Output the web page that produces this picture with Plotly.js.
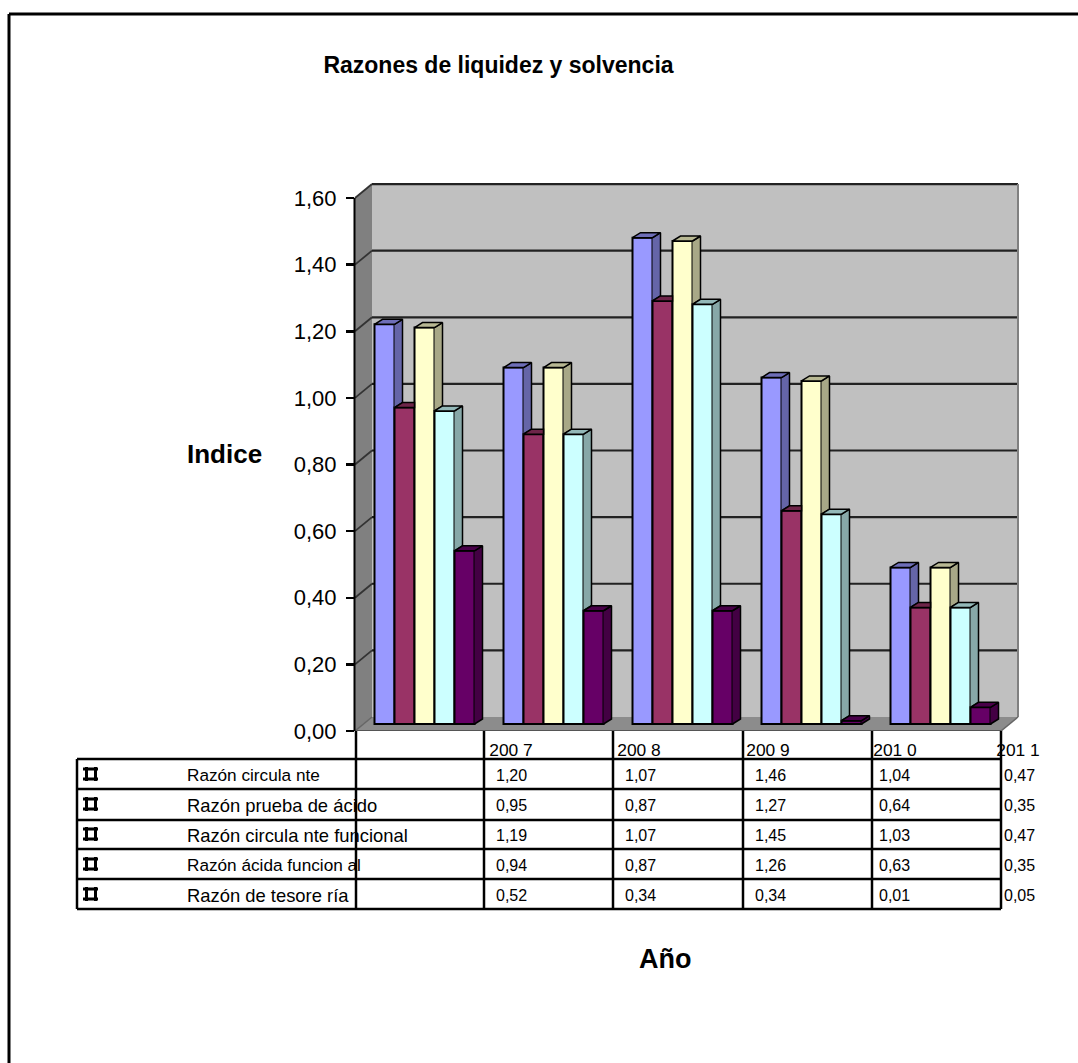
<!DOCTYPE html>
<html>
<head>
<meta charset="utf-8">
<title>Razones de liquidez y solvencia</title>
<script src="https://cdn.plot.ly/plotly-3.0.1.min.js"></script>
<style>html,body{margin:0;padding:0;background:#fff}#chart{width:1078px;height:1063px}</style>
</head>
<body>
<div id="chart"></div>
<script>
// Datos de las razones por año
const years = ['200 7', '200 8', '200 9', '201 0', '201 1'];
const razonCirculante = [1.20, 1.07, 1.46, 1.04, 0.47];
const razonPruebaAcido = [0.95, 0.87, 1.27, 0.64, 0.35];
const razonCirculanteFuncional = [1.19, 1.07, 1.45, 1.03, 0.47];
const razonAcidaFuncional = [0.94, 0.87, 1.26, 0.63, 0.35];
const razonTesoreria = [0.52, 0.34, 0.34, 0.01, 0.05];
const seriesNames = ['Razón circula nte', 'Razón prueba de ácido', 'Razón circula nte funcional', 'Razón ácida funcion al', 'Razón de tesore ría'];
const yTicks = [0, 0.2, 0.4, 0.6, 0.8, 1.0, 1.2, 1.4, 1.6];

const seriesValues = [razonCirculante, razonPruebaAcido, razonCirculanteFuncional, razonAcidaFuncional, razonTesoreria];
const faceColors = [[153, 153, 255], [153, 51, 102], [255, 255, 204], [204, 255, 255], [102, 0, 102]];

// Geometría de la figura en píxeles
const W = 1078, H = 1063;
const plotL = 355, plotR = 1030, plotT = 170, plotB = 731;
const pxPerUnitY = 333.1, pxPerCat = 129, firstCatPx = 424.5;
const barPx = 20;
const barDepthX = 8, barDepthY = 5, barLift = 7;
const wallDepthX = 17, wallDepthY = 14;
const wallRight = 1001;

const catUnits = px => (px - firstCatPx) / pxPerCat;
const valUnits = px => px / pxPerUnitY;
const paperX = px => (px - plotL) / (plotR - plotL);
const paperY = py => (plotB - py) / (plotB - plotT);

const lift = valUnits(barLift);
const barW = barPx / pxPerCat;
const depthX = barDepthX / pxPerCat;
const depthY = valUnits(barDepthY);
const wallDY = valUnits(wallDepthY);

const shade = (rgb, f) => `rgb(${rgb.map(c => Math.round(c * f)).join(',')})`;

// Caras frontales de las barras
const traces = seriesValues.map((vals, s) => ({
  type: 'bar',
  name: seriesNames[s],
  x: years.map((_, i) => i),
  y: vals,
  base: lift,
  marker: {color: shade(faceColors[s], 1), line: {color: '#000', width: 2}},
  hoverinfo: 'skip',
  showlegend: false
}));

// Caras lateral y superior: se recortan contra la barra siguiente, que queda delante
seriesValues.forEach((vals, s) => {
  const next = seriesValues[s + 1];
  const sx = [], sy = [], tx = [], ty = [];
  vals.forEach((v, i) => {
    const xl = i + (s - 2.5) * barW;
    const xr = xl + barW;
    const top = lift + v;
    const nextTop = next ? lift + next[i] : lift;
    const hidden = nextTop >= top;
    if (!hidden) {
      sx.push(xr, xr + depthX, xr + depthX, xr, null);
      sy.push(top, top + depthY, nextTop + depthY, nextTop, null);
    }
    const backR = hidden ? xr : xr + depthX;
    tx.push(xl, xr, backR, xl + depthX, xl, null);
    ty.push(top, top, top + depthY, top + depthY, top, null);
  });
  const poly = (x, y, f) => ({
    type: 'scatter', mode: 'lines', x, y, fill: 'toself',
    fillcolor: shade(faceColors[s], f),
    line: {color: '#000', width: 1.5},
    hoverinfo: 'skip', showlegend: false
  });
  traces.push(poly(sx, sy, 0.66), poly(tx, ty, 0.72));
});

// Paredes y suelo del gráfico
const shapes = [];
const polyShape = (pts, fill, layer) => shapes.push({
  type: 'path', xref: 'paper', yref: 'y', layer: layer || 'below',
  path: 'M' + pts.map(p => paperX(p[0]) + ',' + p[1]).join('L') + 'Z',
  fillcolor: fill, line: {width: 0}
});
const backL = plotL + wallDepthX, backR = wallRight + wallDepthX;
const topVal = yTicks[yTicks.length - 1];
polyShape([[backL, wallDY], [backR, wallDY], [backR, topVal + wallDY], [backL, topVal + wallDY]], '#C0C0C0');
polyShape([[plotL, 0], [backL, wallDY], [backL, topVal + wallDY], [plotL, topVal]], '#808080');
polyShape([[plotL, 0], [backL, wallDY], [backR, wallDY], [wallRight, 0]], '#8C8C8C');

const dataLine = (x0, y0, x1, y1, color, width) => shapes.push({
  type: 'line', xref: 'paper', yref: 'y', layer: 'below',
  x0: paperX(x0), y0, x1: paperX(x1), y1, line: {color, width}
});
yTicks.forEach(v => {
  if (v === 0) return;
  dataLine(plotL, v, backL, v + wallDY, '#333', 1.8);
  dataLine(backL, v + wallDY, backR, v + wallDY, '#222', 2.2);
});
dataLine(backR, wallDY, backR, topVal + wallDY, '#808080', 2);
dataLine(plotL, 0, wallRight, 0, '#555', 2);
dataLine(wallRight, 0, backR, wallDY, '#666', 1.5);
dataLine(plotL, 0, backL, wallDY, '#666', 1.5);

// Elementos dibujados en píxeles de la página
const pageLine = (x0, y0, x1, y1, width) => shapes.push({
  type: 'line', xref: 'paper', yref: 'paper', layer: 'above',
  x0: paperX(x0), y0: paperY(y0), x1: paperX(x1), y1: paperY(y1),
  line: {color: '#000', width}
});

// Marco exterior
pageLine(9, 14, W, 14, 3);
pageLine(9, 14, 9, H, 3);

// Eje vertical y rejilla de la tabla de datos
pageLine(354.5, 198, 354.5, plotB, 2);
pageLine(356, plotB, 356, 909, 2.5);
const rowLines = [759, 789, 820, 849, 879, 909];
const colLines = [484, 613, 743, 872, 1001];
const tableLeft = 77;
rowLines.forEach(y => pageLine(tableLeft, y, 1001, y, 2.5));
pageLine(tableLeft, rowLines[0], tableLeft, 909, 2.5);
colLines.forEach(x => pageLine(x, plotB, x, 909, 2.5));

const rowCenters = [775, 805, 835, 865, 895];

// Claves de la leyenda dentro de la tabla
rowCenters.forEach(y => {
  const c = y - 1;
  pageLine(83, c - 5, 98, c - 5, 3);
  pageLine(83, c + 5, 98, c + 5, 3);
  pageLine(86.5, c - 7, 86.5, c + 7, 3);
  pageLine(95.5, c - 7, 95.5, c + 7, 3);
});

const annotations = [];
const FONT = '"Liberation Sans", Arial, sans-serif';
const pageText = (text, x, y, size, weight) => annotations.push({
  text, xref: 'paper', yref: 'paper', x: paperX(x), y: paperY(y),
  xanchor: 'left', yanchor: 'middle', showarrow: false,
  font: {family: FONT, size, color: '#000', weight: weight || 400}, borderpad: 0
});

const labelSizes = [17.2, 18.4, 18.4, 17.2, 18.4];
seriesNames.forEach((name, r) => pageText(name, 186, rowCenters[r], labelSizes[r]));

const cellLeft = [495, 624, 754, 878, 1003];
seriesValues.forEach((vals, r) => vals.forEach((v, i) =>
  pageText(v.toFixed(2).replace('.', ','), cellLeft[i], rowCenters[r], 16)));

pageText('Indice', 186, 454, 26, 700);
pageText('Año', 638, 959, 27, 700);

const yearLabelPx = [511, 639, 768, 895, 1018];

const layout = {
  width: W, height: H,
  paper_bgcolor: '#fff', plot_bgcolor: 'rgba(0,0,0,0)',
  margin: {l: plotL, r: W - plotR, t: plotT, b: H - plotB, pad: 0},
  showlegend: false,
  barmode: 'group', bargap: 1 - 5 * barW, bargroupgap: 0,
  separators: ',.',
  title: {
    text: '<b>Razones de liquidez y solvencia</b>',
    x: 498.5 / W, xanchor: 'center', y: 1 - 65 / H, yanchor: 'middle',
    font: {family: FONT, size: 23, color: '#000'}
  },
  xaxis: {
    type: 'linear',
    range: [catUnits(plotL), catUnits(plotR)],
    tickmode: 'array',
    tickvals: yearLabelPx.map(catUnits),
    ticktext: years,
    ticks: '', showgrid: false, zeroline: false, showline: false,
    ticklabelstandoff: 7,
    tickfont: {family: FONT, size: 17.4, color: '#000'}
  },
  yaxis: {
    range: [0, (plotB - plotT) / pxPerUnitY],
    tickmode: 'array', tickvals: yTicks, tickformat: '.2f',
    ticks: 'outside', ticklen: 8, tickwidth: 2.5, tickcolor: '#000',
    ticklabelstandoff: 5,
    showgrid: false, zeroline: false, showline: false,
    tickfont: {family: FONT, size: 22, color: '#000'}
  },
  shapes, annotations
};

Plotly.newPlot('chart', traces, layout, {staticPlot: true, displayModeBar: false});
</script>
</body>
</html>
